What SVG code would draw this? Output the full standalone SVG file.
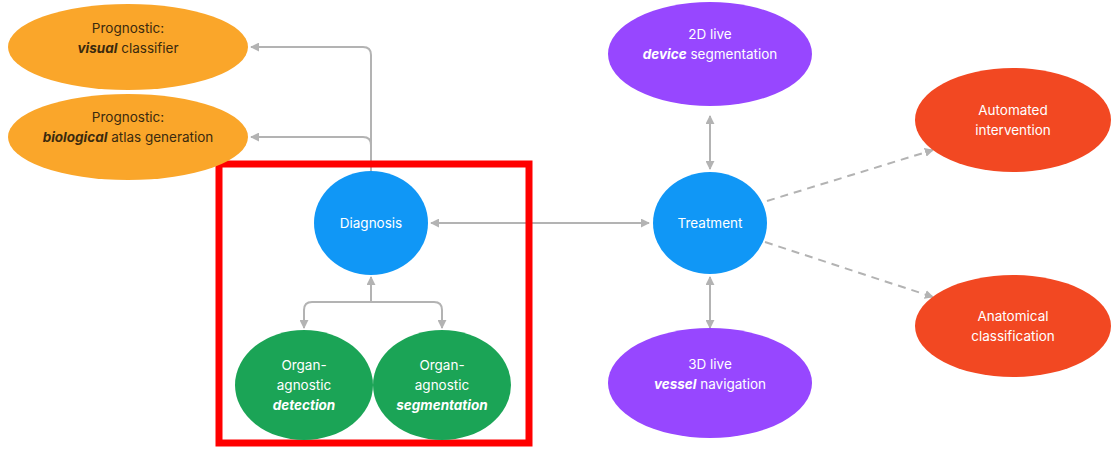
<svg xmlns="http://www.w3.org/2000/svg" width="1114" height="450" viewBox="0 0 1114 450">
<style>
  text { font-family: Inter, "Noto Sans", "Liberation Sans", sans-serif; font-size: 13.5px; text-anchor: middle; }
  .w { fill: #ffffff; }
  .d { fill: #3b2a0e; }
  .b { font-weight: bold; font-style: italic; }
  .orange { fill: #FAA62A; }
  .blue { fill: #1097F6; }
  .green { fill: #1BA456; }
  .purple { fill: #9747FF; }
  .red { fill: #F24822; }
  .conn { fill: none; stroke: #B3B3B3; stroke-width: 2; }
  .dash { stroke-dasharray: 8 6; }
</style>
<defs>
  <marker id="arr" viewBox="0 0 10 10" refX="9" refY="5" markerWidth="9" markerHeight="9" markerUnits="userSpaceOnUse" orient="auto-start-reverse">
    <path d="M0,0 L10,5 L0,10 Z" fill="#B3B3B3"/>
  </marker>
</defs>
<rect width="1114" height="450" fill="#ffffff"/>

<g id="connectors">
  <path class="conn" d="M371,172 V55 Q371,47 363,47 H251" marker-end="url(#arr)"/>
  <path class="conn" d="M371,172 V145 Q371,137 363,137 H251" marker-end="url(#arr)"/>
  <path class="conn" d="M371,302 V277" marker-end="url(#arr)"/>
  <path class="conn" d="M371,302 H312 Q304,302 304,310 V328" marker-end="url(#arr)"/>
  <path class="conn" d="M371,302 H434 Q442,302 442,310 V328" marker-end="url(#arr)"/>
  <path class="conn" d="M431,223 H649" marker-start="url(#arr)" marker-end="url(#arr)"/>
  <path class="conn" d="M710,116 V169" marker-start="url(#arr)" marker-end="url(#arr)"/>
  <path class="conn" d="M710,277 V328" marker-start="url(#arr)" marker-end="url(#arr)"/>
  <path class="conn dash" d="M767,201 L933,150" marker-end="url(#arr)"/>
  <path class="conn dash" d="M765,242 L933,297" marker-end="url(#arr)"/>
</g>

<g id="frame">
  <rect x="219" y="164" width="310" height="279" fill="none" stroke="#FF0000" stroke-width="7"/>
</g>

<g id="prog-visual">
  <ellipse class="orange" cx="128" cy="47" rx="120" ry="43"/>
  <text class="d" x="128" y="33">Prognostic:</text>
  <text class="d" x="128" y="53"><tspan class="b">visual</tspan> classifier</text>
</g>
<g id="prog-bio">
  <ellipse class="orange" cx="128" cy="137" rx="120" ry="43"/>
  <text class="d" x="128" y="122">Prognostic:</text>
  <text class="d" x="128" y="142"><tspan class="b">biological</tspan> atlas generation</text>
</g>
<g id="diagnosis">
  <ellipse class="blue" cx="371" cy="223" rx="57" ry="52"/>
  <text class="w" x="371" y="228">Diagnosis</text>
</g>
<g id="detection">
  <ellipse class="green" cx="304" cy="385" rx="69" ry="55"/>
  <text class="w" x="304" y="370">Organ-</text>
  <text class="w" x="304" y="390">agnostic</text>
  <text class="w b" x="304" y="410">detection</text>
</g>
<g id="segmentation">
  <ellipse class="green" cx="442" cy="385" rx="69" ry="55"/>
  <text class="w" x="442" y="370">Organ-</text>
  <text class="w" x="442" y="390">agnostic</text>
  <text class="w b" x="442" y="410">segmentation</text>
</g>
<g id="treatment">
  <ellipse class="blue" cx="710" cy="223" rx="57" ry="51"/>
  <text class="w" x="710" y="228">Treatment</text>
</g>
<g id="device-seg">
  <ellipse class="purple" cx="710" cy="54" rx="102" ry="52"/>
  <text class="w" x="710" y="39">2D live</text>
  <text class="w" x="710" y="59"><tspan class="b">device</tspan> segmentation</text>
</g>
<g id="vessel-nav">
  <ellipse class="purple" cx="710" cy="383" rx="102" ry="55"/>
  <text class="w" x="710" y="369">3D live</text>
  <text class="w" x="710" y="389"><tspan class="b">vessel</tspan> navigation</text>
</g>
<g id="automated">
  <ellipse class="red" cx="1013" cy="120" rx="98" ry="52"/>
  <text class="w" x="1013" y="115">Automated</text>
  <text class="w" x="1013" y="135">intervention</text>
</g>
<g id="anatomical">
  <ellipse class="red" cx="1013" cy="326" rx="98" ry="51"/>
  <text class="w" x="1013" y="321">Anatomical</text>
  <text class="w" x="1013" y="341">classification</text>
</g>
</svg>
